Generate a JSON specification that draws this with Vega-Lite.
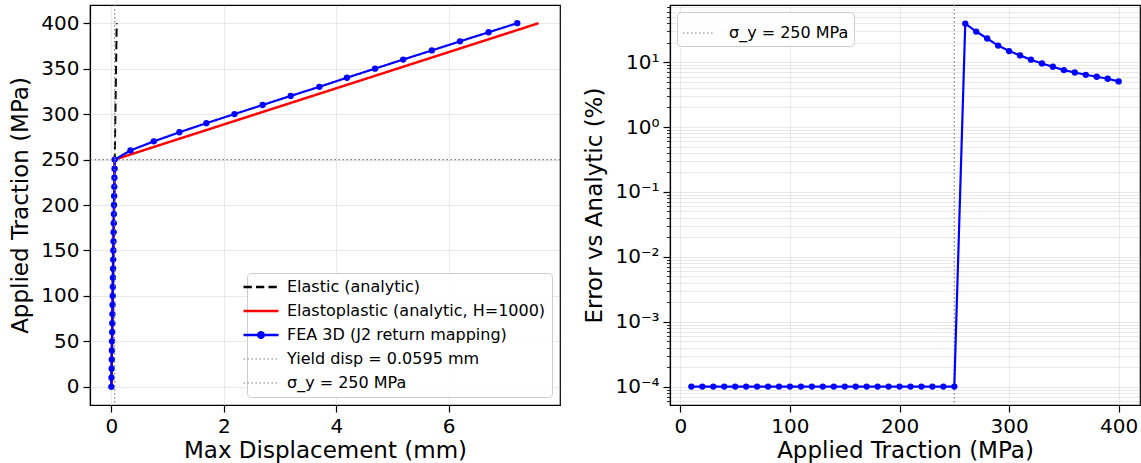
{
  "$schema": "https://vega.github.io/schema/vega-lite/v6.json",
  "padding": {"left": 9, "top": 3, "right": 2, "bottom": 0},
  "background": "white",
  "datasets": {
    "left": [
      {"series": "Elastic (analytic)", "disp": 0, "traction": 0},
      {"series": "Elastic (analytic)", "disp": 0.0952, "traction": 400},
      {"series": "Elastoplastic (analytic, H=1000)", "disp": 0, "traction": 0},
      {"series": "Elastoplastic (analytic, H=1000)", "disp": 0.0595, "traction": 250},
      {"series": "Elastoplastic (analytic, H=1000)", "disp": 7.6, "traction": 400},
      {"series": "FEA 3D (J2 return mapping)", "disp": 0, "traction": 0},
      {"series": "FEA 3D (J2 return mapping)", "disp": 0.00238, "traction": 10},
      {"series": "FEA 3D (J2 return mapping)", "disp": 0.00476, "traction": 20},
      {"series": "FEA 3D (J2 return mapping)", "disp": 0.00714, "traction": 30},
      {"series": "FEA 3D (J2 return mapping)", "disp": 0.00952, "traction": 40},
      {"series": "FEA 3D (J2 return mapping)", "disp": 0.0119, "traction": 50},
      {"series": "FEA 3D (J2 return mapping)", "disp": 0.01428, "traction": 60},
      {"series": "FEA 3D (J2 return mapping)", "disp": 0.01666, "traction": 70},
      {"series": "FEA 3D (J2 return mapping)", "disp": 0.01904, "traction": 80},
      {"series": "FEA 3D (J2 return mapping)", "disp": 0.02142, "traction": 90},
      {"series": "FEA 3D (J2 return mapping)", "disp": 0.0238, "traction": 100},
      {"series": "FEA 3D (J2 return mapping)", "disp": 0.02618, "traction": 110},
      {"series": "FEA 3D (J2 return mapping)", "disp": 0.02856, "traction": 120},
      {"series": "FEA 3D (J2 return mapping)", "disp": 0.03094, "traction": 130},
      {"series": "FEA 3D (J2 return mapping)", "disp": 0.03332, "traction": 140},
      {"series": "FEA 3D (J2 return mapping)", "disp": 0.0357, "traction": 150},
      {"series": "FEA 3D (J2 return mapping)", "disp": 0.03808, "traction": 160},
      {"series": "FEA 3D (J2 return mapping)", "disp": 0.04046, "traction": 170},
      {"series": "FEA 3D (J2 return mapping)", "disp": 0.04284, "traction": 180},
      {"series": "FEA 3D (J2 return mapping)", "disp": 0.04522, "traction": 190},
      {"series": "FEA 3D (J2 return mapping)", "disp": 0.0476, "traction": 200},
      {"series": "FEA 3D (J2 return mapping)", "disp": 0.04998, "traction": 210},
      {"series": "FEA 3D (J2 return mapping)", "disp": 0.05236, "traction": 220},
      {"series": "FEA 3D (J2 return mapping)", "disp": 0.05474, "traction": 230},
      {"series": "FEA 3D (J2 return mapping)", "disp": 0.05712, "traction": 240},
      {"series": "FEA 3D (J2 return mapping)", "disp": 0.0595, "traction": 250},
      {"series": "FEA 3D (J2 return mapping)", "disp": 0.34, "traction": 260},
      {"series": "FEA 3D (J2 return mapping)", "disp": 0.755, "traction": 270},
      {"series": "FEA 3D (J2 return mapping)", "disp": 1.21, "traction": 280},
      {"series": "FEA 3D (J2 return mapping)", "disp": 1.69, "traction": 290},
      {"series": "FEA 3D (J2 return mapping)", "disp": 2.19, "traction": 300},
      {"series": "FEA 3D (J2 return mapping)", "disp": 2.69, "traction": 310},
      {"series": "FEA 3D (J2 return mapping)", "disp": 3.19, "traction": 320},
      {"series": "FEA 3D (J2 return mapping)", "disp": 3.70, "traction": 330},
      {"series": "FEA 3D (J2 return mapping)", "disp": 4.19, "traction": 340},
      {"series": "FEA 3D (J2 return mapping)", "disp": 4.69, "traction": 350},
      {"series": "FEA 3D (J2 return mapping)", "disp": 5.19, "traction": 360},
      {"series": "FEA 3D (J2 return mapping)", "disp": 5.70, "traction": 370},
      {"series": "FEA 3D (J2 return mapping)", "disp": 6.20, "traction": 380},
      {"series": "FEA 3D (J2 return mapping)", "disp": 6.71, "traction": 390},
      {"series": "FEA 3D (J2 return mapping)", "disp": 7.22, "traction": 400}
    ],
    "err": [
      {"traction": 10, "error": 0.0001}, {"traction": 20, "error": 0.0001}, {"traction": 30, "error": 0.0001},
      {"traction": 40, "error": 0.0001}, {"traction": 50, "error": 0.0001}, {"traction": 60, "error": 0.0001},
      {"traction": 70, "error": 0.0001}, {"traction": 80, "error": 0.0001}, {"traction": 90, "error": 0.0001},
      {"traction": 100, "error": 0.0001}, {"traction": 110, "error": 0.0001}, {"traction": 120, "error": 0.0001},
      {"traction": 130, "error": 0.0001}, {"traction": 140, "error": 0.0001}, {"traction": 150, "error": 0.0001},
      {"traction": 160, "error": 0.0001}, {"traction": 170, "error": 0.0001}, {"traction": 180, "error": 0.0001},
      {"traction": 190, "error": 0.0001}, {"traction": 200, "error": 0.0001}, {"traction": 210, "error": 0.0001},
      {"traction": 220, "error": 0.0001}, {"traction": 230, "error": 0.0001}, {"traction": 240, "error": 0.0001},
      {"traction": 250, "error": 0.0001},
      {"traction": 260, "error": 39.3}, {"traction": 270, "error": 29.6}, {"traction": 280, "error": 23.1},
      {"traction": 290, "error": 18.0}, {"traction": 300, "error": 14.8}, {"traction": 310, "error": 12.7},
      {"traction": 320, "error": 10.9}, {"traction": 330, "error": 9.54}, {"traction": 340, "error": 8.48},
      {"traction": 350, "error": 7.53}, {"traction": 360, "error": 6.93}, {"traction": 370, "error": 6.38},
      {"traction": 380, "error": 5.95}, {"traction": 390, "error": 5.54}, {"traction": 400, "error": 5.05}
    ]
  },
  "hconcat": [
    {
      "width": 470,
      "height": 400,
      "layer": [
        {
          "data": {"name": "left"},
          "transform": [{"filter": "datum.series === 'Elastic (analytic)'"}],
          "mark": {"type": "line", "strokeWidth": 2},
          "encoding": {
            "x": {"field": "disp", "type": "quantitative", "title": "Max Displacement (mm)",
                  "scale": {"domain": [-0.38, 7.98], "nice": false, "zero": false},
                  "axis": {"values": [0, 2, 4, 6], "grid": true, "format": "d"}},
            "y": {"field": "traction", "type": "quantitative", "title": "Applied Traction (MPa)",
                  "scale": {"domain": [-20, 420], "nice": false, "zero": false},
                  "axis": {"values": [0, 50, 100, 150, 200, 250, 300, 350, 400], "grid": true, "format": "d"}},
            "order": {"field": "traction"},
            "color": {"field": "series", "type": "nominal", "title": null,
                      "scale": {"domain": ["Elastic (analytic)", "Elastoplastic (analytic, H=1000)", "FEA 3D (J2 return mapping)", "Yield disp = 0.0595 mm", "σ_y = 250 MPa"],
                                "range": ["#000000", "#ff0000", "#0000ff", "#808080", "#808080"]},
                      "legend": {"orient": "bottom-right", "offset": 8, "labelOffset": 18, "padding": 6, "rowPadding": 8, "symbolType": "stroke",
                                 "encode": {"symbols": {"update": {
                                   "shape": {"signal": "datum.value === 'FEA 3D (J2 return mapping)' ? 'M-1,0L1,0M-0.16,0A0.16,0.16,0,1,1,0.16,0A0.16,0.16,0,1,1,-0.16,0' : 'stroke'"},
                                   "fill": {"signal": "datum.value === 'FEA 3D (J2 return mapping)' ? '#0000ff' : 'transparent'"},
                                   "strokeWidth": {"signal": "datum.value === 'Yield disp = 0.0595 mm' || datum.value === 'σ_y = 250 MPa' ? 1.2 : 2.4"}
                                 }}}}},
            "strokeDash": {"field": "series", "type": "nominal", "title": null,
                      "scale": {"domain": ["Elastic (analytic)", "Elastoplastic (analytic, H=1000)", "FEA 3D (J2 return mapping)", "Yield disp = 0.0595 mm", "σ_y = 250 MPa"],
                                "range": [[8.3, 4.2], [1, 0], [1, 0], [1.5, 2.5], [1.5, 2.5]]},
                      "legend": {"orient": "bottom-right", "offset": 8, "labelOffset": 18, "padding": 6, "rowPadding": 8, "symbolType": "stroke"}}
          }
        },
        {
          "data": {"name": "left"},
          "transform": [{"filter": "datum.series === 'Elastoplastic (analytic, H=1000)'"}],
          "mark": {"type": "line", "strokeWidth": 2.5},
          "encoding": {
            "x": {"field": "disp", "type": "quantitative"},
            "y": {"field": "traction", "type": "quantitative"},
            "order": {"field": "traction"},
            "color": {"field": "series", "type": "nominal"},
            "strokeDash": {"field": "series", "type": "nominal"}
          }
        },
        {
          "data": {"name": "left"},
          "transform": [{"filter": "datum.series === 'FEA 3D (J2 return mapping)'"}],
          "mark": {"type": "line", "strokeWidth": 2.2, "point": {"filled": true, "size": 40}},
          "encoding": {
            "x": {"field": "disp", "type": "quantitative"},
            "y": {"field": "traction", "type": "quantitative"},
            "order": {"field": "traction"},
            "color": {"field": "series", "type": "nominal"},
            "strokeDash": {"field": "series", "type": "nominal"}
          }
        },
        {
          "data": {"values": [{"series": "Yield disp = 0.0595 mm", "disp": 0.0595}]},
          "mark": {"type": "rule", "strokeWidth": 1.2},
          "encoding": {
            "x": {"field": "disp", "type": "quantitative"},
            "color": {"field": "series", "type": "nominal"},
            "strokeDash": {"field": "series", "type": "nominal"}
          }
        },
        {
          "data": {"values": [{"series": "σ_y = 250 MPa", "traction": 250}]},
          "mark": {"type": "rule", "strokeWidth": 1.2},
          "encoding": {
            "y": {"field": "traction", "type": "quantitative"},
            "color": {"field": "series", "type": "nominal"},
            "strokeDash": {"field": "series", "type": "nominal"}
          }
        }
      ]
    },
    {
      "width": 470,
      "height": 400,
      "layer": [
        {
          "data": {"values": [{"series": "σ_y = 250 MPa", "traction": 250}]},
          "mark": {"type": "rule", "strokeWidth": 1.2},
          "encoding": {
            "x": {"field": "traction", "type": "quantitative", "title": "Applied Traction (MPa)",
                  "scale": {"domain": [-9.5, 419.5], "nice": false, "zero": false},
                  "axis": {"values": [0, 100, 200, 300, 400], "grid": true, "format": "d"}},
            "color": {"field": "series", "type": "nominal", "title": null,
                      "scale": {"domain": ["σ_y = 250 MPa"], "range": ["#808080"]},
                      "legend": {"orient": "top-left", "offset": 7, "labelOffset": 15, "padding": 5, "rowPadding": 0, "symbolType": "stroke", "symbolSize": 900,
                                 "encode": {"symbols": {"update": {
                                   "shape": {"value": "stroke"},
                                   "fill": {"value": "transparent"},
                                   "strokeWidth": {"value": 1.2}
                                 }}}}},
            "strokeDash": {"field": "series", "type": "nominal", "title": null,
                      "scale": {"domain": ["σ_y = 250 MPa"], "range": [[1.5, 2.5]]},
                      "legend": {"orient": "top-left", "offset": 7, "labelOffset": 15, "padding": 5, "rowPadding": 0, "symbolType": "stroke", "symbolSize": 900}}
          }
        },
        {
          "data": {"name": "err"},
          "mark": {"type": "line", "strokeWidth": 2.2, "color": "#0000ff", "point": {"filled": true, "size": 40, "color": "#0000ff"}},
          "encoding": {
            "x": {"field": "traction", "type": "quantitative"},
            "y": {"field": "error", "type": "quantitative", "title": "Error vs Analytic (%)",
                  "scale": {"type": "log", "domain": [0.0000521, 75.9], "nice": false},
                  "axis": {
                    "grid": true,
                    "values": [0.00006, 0.00007, 0.00008, 0.00009,
                               0.0001, 0.0002, 0.0003, 0.0004, 0.0005, 0.0006, 0.0007, 0.0008, 0.0009,
                               0.001, 0.002, 0.003, 0.004, 0.005, 0.006, 0.007, 0.008, 0.009,
                               0.01, 0.02, 0.03, 0.04, 0.05, 0.06, 0.07, 0.08, 0.09,
                               0.1, 0.2, 0.3, 0.4, 0.5, 0.6, 0.7, 0.8, 0.9,
                               1, 2, 3, 4, 5, 6, 7, 8, 9,
                               10, 20, 30, 40, 50, 60, 70],
                    "labelExpr": "abs(log(datum.value)/LN10 - round(log(datum.value)/LN10)) < 0.001 ? ['10⁻⁴','10⁻³','10⁻²','10⁻¹','10⁰','10¹'][round(log(datum.value)/LN10) + 4] : ''",
                    "labelFontSize": {"condition": {"test": "abs(log(datum.value)/LN10 - round(log(datum.value)/LN10)) < 0.001", "value": 20}, "value": 0},
                    "tickSize": {"condition": {"test": "abs(log(datum.value)/LN10 - round(log(datum.value)/LN10)) < 0.001", "value": 7}, "value": 3.5},
                    "tickWidth": {"condition": {"test": "abs(log(datum.value)/LN10 - round(log(datum.value)/LN10)) < 0.001", "value": 1.2}, "value": 0.8}
                  }},
            "order": {"field": "traction"}
          }
        }
      ]
    }
  ],
  "spacing": 110,
  "bounds": "flush",
  "resolve": {"scale": {"color": "independent", "strokeDash": "independent"}, "legend": {"color": "independent", "strokeDash": "independent"}},
  "config": {
    "font": "DejaVu Sans",
    "view": {"stroke": "#000000", "strokeWidth": 1.2},
    "axis": {
      "labelFont": "DejaVu Sans", "titleFont": "DejaVu Sans",
      "labelFontSize": 20, "titleFontSize": 23, "titleFontWeight": "normal",
      "labelColor": "#000000", "titleColor": "#000000",
      "domainColor": "#000000", "domainWidth": 1.2,
      "tickColor": "#000000", "tickSize": 7, "tickWidth": 1.2,
      "gridColor": "#b0b0b0", "gridOpacity": 0.35, "gridWidth": 0.8,
      "labelPadding": 4, "labelFlush": false, "labelOverlap": false
    },
    "axisX": {"titlePadding": 3},
    "axisY": {"titlePadding": 8},
    "legend": {
      "labelFont": "DejaVu Sans", "labelFontSize": 16, "labelColor": "#000000",
      "fillColor": "rgba(255,255,255,0.85)", "strokeColor": "#cccccc", "cornerRadius": 4,
      "padding": 6, "symbolType": "stroke", "symbolSize": 1225, "symbolStrokeWidth": 2,
      "rowPadding": 8, "labelOffset": 18, "labelLimit": 400
    }
  }
}
